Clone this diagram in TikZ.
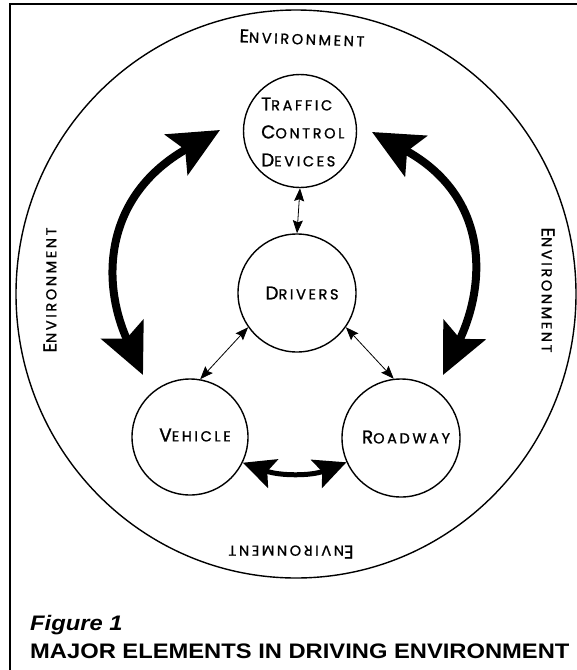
\documentclass[tikz,border=0pt]{standalone}
\usepackage{fontspec}
\setmainfont{Liberation Sans}
\newfontfamily\labfont[LetterSpace=18,FakeBold=1.2]{Poppins}
\usetikzlibrary{arrows.meta,shapes.geometric}
\newcommand\scw[2]{{\fontsize{18.5}{18.5}\selectfont #1}{\fontsize{14.5}{14.5}\selectfont #2}}
\begin{document}
\begin{tikzpicture}[x=1pt,y=-1pt,
  elem/.style={circle,draw,line width=1.4pt,minimum size=116pt,inner sep=0pt},
  lab/.style={font=\labfont,inner sep=0pt},
  bigarrow/.style={line width=8pt,{Stealth[length=50pt,width=46pt,inset=10pt]}-{Stealth[length=50pt,width=46pt,inset=10pt]}},
  midarrow/.style={line width=5pt,{Stealth[length=32pt,width=30pt,inset=6pt]}-{Stealth[length=32pt,width=30pt,inset=6pt]}},
  smallarrow/.style={line width=0.8pt,{Stealth[length=13pt,width=10pt,inset=2pt]}-{Stealth[length=13pt,width=10pt,inset=2pt]}},
  caption/.style={anchor=base west,inner sep=0pt,font=\fontsize{21}{21}\selectfont\bfseries}]
\useasboundingbox (0,0) rectangle (577,670);
% frame
\draw[line width=2pt] (577,4) -- (10,4) -- (10,670);
% environment
\node[ellipse,draw,line width=1.4pt,minimum width=560pt,minimum height=568pt,inner sep=0pt] (env) at (296,294) {};
% elements
\node[elem,minimum size=113pt] (tcd) at (300,131) {};
\node[elem,minimum size=118pt] (drv) at (297,293) {};
\node[elem] (veh) at (190,437) {};
\node[elem,minimum size=118pt] (road) at (401,438) {};
% labels
\node[lab,anchor=west,align=left,font=\labfont\fontsize{14.5}{28}\selectfont] (tcdtext) at (261,132) {\scw{T}{RAFFIC}\\\scw{C}{ONTROL}\\\scw{D}{EVICES}};
\node[lab] (drvtext) at (302,293) {\scw{D}{RIVERS}};
\node[lab] (vehtext) at (195,435) {\scw{V}{EHICLE}};
\node[lab] (roadtext) at (406,437) {\scw{R}{OADWAY}};
\node[lab,rotate=-2] (envT) at (302,38) {\scw{E}{NVIRONMENT}};
\node[lab,rotate=90] (envL) at (50,290) {\scw{E}{NVIRONMENT}};
\node[lab,rotate=-90] (envR) at (548,290) {\scw{E}{NVIRONMENT}};
\node[lab,rotate=180] (envB) at (291,552) {\scw{E}{NVIRONMENT}};
% big arrows
\coordinate (L1) at (220,130);
\coordinate (L2) at (143,375);
\coordinate (R1) at (372,132);
\coordinate (R2) at (443,375);
\draw[bigarrow] (L1) .. controls (105,195) and (100,280) .. (L2);
\draw[bigarrow] (R1) .. controls (487,195) and (488,280) .. (R2);
% vehicle-roadway
\draw[midarrow] (veh.-26) .. controls (280,476) and (311,476) .. (road.204);
% small arrows
\draw[smallarrow] (tcd.south) -- (drv.north);
\draw[smallarrow] (drv.215) -- (veh.80);
\draw[smallarrow] (drv.-35) -- (road.97);
% caption
\node[caption] (fig) at (30,630) {\scalebox{1.13}[1]{\itshape Figure 1}};
\node[caption] (title) at (30,658) {\scalebox{1.13}[1]{MAJOR ELEMENTS IN DRIVING ENVIRONMENT}};
\end{tikzpicture}
\end{document}
